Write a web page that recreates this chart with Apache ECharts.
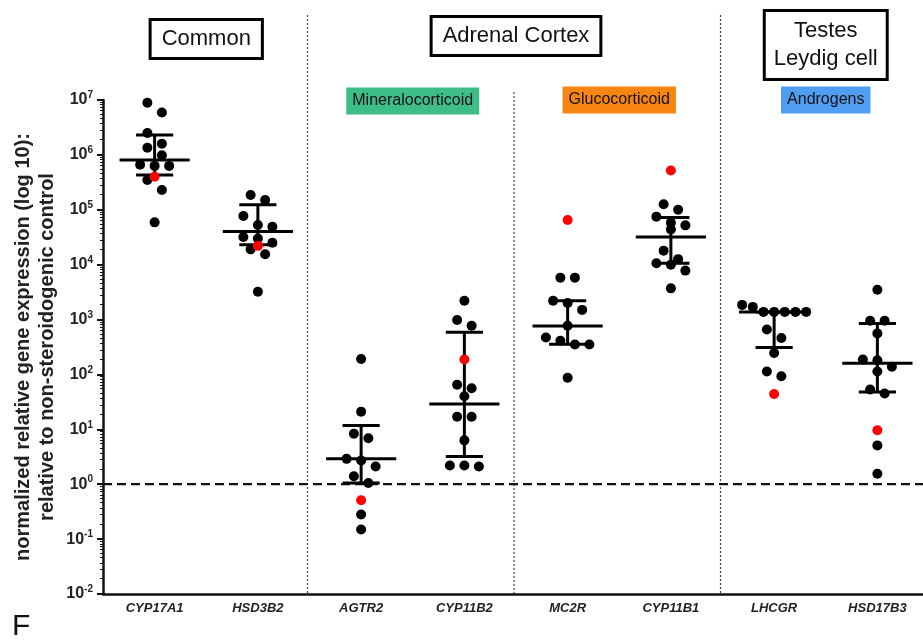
<!DOCTYPE html>
<html><head><meta charset="utf-8">
<script src="https://cdn.jsdelivr.net/npm/echarts@6/dist/echarts.min.js"></script>
<style>html,body{margin:0;padding:0;background:#fff}#c{width:923px;height:640px}</style>
</head><body><div id="c"></div>
<script>
// ---------- data ----------
const categories = ['CYP17A1','HSD3B2','AGTR2','CYP11B2','MC2R','CYP11B1','LHCGR','HSD17B3'];

const cyp17a1 = [8.9e6, 5.9e6, 2.5e6, 1.6e6, 1.35e6, 9.8e5, 6.6e5, 6.3e5, 6.3e5, 3.5e5, 2.3e5, 5.9e4];
const hsd3b2  = [1.86e5, 1.5e5, 7.7e4, 5.3e4, 4.9e4, 3.2e4, 3.0e4, 2.5e4, 1.9e4, 1.55e4, 3.2e3];
const agtr2   = [191, 21, 8.3, 6.9, 2.9, 2.7, 2.1, 1.4, 1.05, 0.28, 0.15];
const cyp11b2 = [2200, 980, 770, 65, 56, 40, 17, 17, 6.3, 2.2, 2.1, 2.2];
const mc2r    = [5800, 5800, 2200, 2000, 1500, 770, 470, 410, 350, 350, 87];
const cyp11b1 = [1.26e5, 1.0e5, 7.5e4, 5.8e4, 5.2e4, 4.4e4, 1.8e4, 1.26e4, 1.06e4, 1.0e4, 7.8e3, 3.7e3];
const lhcgr   = [1850, 1700, 1380, 1380, 1380, 1380, 1380, 660, 460, 245, 113, 93];
const hsd17b3 = [3500, 950, 950, 560, 187, 182, 138, 113, 53, 45, 5.1, 1.55];

// highlighted (red) sample per gene
const redValues = [4.0e5, 2.2e4, 0.51, 187, 6.5e4, 5.2e5, 44, 9.6];

// median and interquartile range per gene
const medians = [8.1e5, 4.0e4, 2.9, 29, 760, 3.2e4, 1380, 160];
const lowerQ  = [4.3e5, 2.3e4, 1.05, 3.2, 355, 1.06e4, 310, 48];
const upperQ  = [2.3e6, 1.23e5, 11.8, 590, 2200, 7.2e4, 1380, 850];

const baselineValue = 1;
const yMin = 0.01, yMax = 1e7;

const yTitle = 'normalized relative gene expression (log 10):\nrelative to non-steroidogenic control';
const groupTitles = ['Common', 'Adrenal Cortex', 'Testes\nLeydig cell'];
const subTitles = ['Mineralocorticoid', 'Glucocorticoid', 'Androgens'];

// ---------- build ----------
const geneValues = [cyp17a1, hsd3b2, agtr2, cyp11b2, mc2r, cyp11b1, lhcgr, hsd17b3];
const allPoints = [];
geneValues.forEach((arr, c) => arr.forEach(v => allPoints.push({cat: c, v: v, red: false})));
redValues.forEach((v, c) => allPoints.push({cat: c, v: v, red: true}));
const blackData = [], redData = [];
allPoints.forEach((p, i) => (p.red ? redData : blackData).push([p.cat, p.v, i]));
const barData = categories.map((_, i) => [i, medians[i], lowerQ[i], upperQ[i]]);

const FONT = 'Liberation Sans';
const DOT_R = 5;
let layoutKey = null, layoutCache = null;
// simple deterministic beeswarm: group near-equal values into rows, spread each row symmetrically
function getOffsets(api) {
  const key = api.coord([0, yMax]).join() + '|' + api.coord([1, yMin]).join();
  if (key === layoutKey) return layoutCache;
  const offs = new Array(allPoints.length).fill(0);
  for (let c = 0; c < categories.length; c++) {
    const idxs = [];
    allPoints.forEach((p, i) => { if (p.cat === c && !p.red) idxs.push(i); });
    idxs.sort((a, b) => allPoints[b].v - allPoints[a].v);
    const rows = []; let cur = null;
    idxs.forEach(i => {
      const y = api.coord([c, allPoints[i].v])[1];
      if (cur && y - cur.y0 < 11) cur.items.push(i);
      else { cur = {y0: y, items: [i]}; rows.push(cur); }
    });
    rows.forEach(r => {
      const n = r.items.length;
      const slot = n > 1 ? Math.min(14.5, 64 / (n - 1)) : 0;
      r.items.forEach((i, j) => { offs[i] = (j - (n - 1) / 2) * slot; });
    });
  }
  layoutKey = key; layoutCache = offs;
  return offs;
}
function dotRender(color) {
  return function (params, api) {
    const offs = getOffsets(api);
    const p = api.coord([api.value(0), api.value(1)]);
    return {type: 'circle', shape: {cx: p[0] + offs[api.value(2)], cy: p[1], r: DOT_R}, style: {fill: color}};
  };
}

const chart = echarts.init(document.getElementById('c'), null, {renderer: 'canvas'});
const option = {
  animation: false,
  backgroundColor: '#fff',
  grid: {left: 103, top: 100, width: 826, bottom: 46, containLabel: false, outerBoundsMode: 'none'},
  xAxis: {
    type: 'category', data: categories,
    axisLine: {lineStyle: {color: '#111', width: 2.5}},
    axisTick: {alignWithLabel: true, length: 6, lineStyle: {color: '#111', width: 2}},
    axisLabel: {fontFamily: FONT, fontStyle: 'italic', fontWeight: 'bold', fontSize: 13, color: '#222', margin: 8},
    splitLine: {show: false}
  },
  yAxis: {
    type: 'log', logBase: 10, min: yMin, max: yMax, splitNumber: 9,
    name: yTitle, nameLocation: 'middle', nameGap: 44, nameRotate: 90, nameMoveOverlap: false,
    nameTextStyle: {fontFamily: FONT, fontWeight: 'bold', fontSize: 20, lineHeight: 24, color: '#222'},
    axisLine: {show: true, lineStyle: {color: '#111', width: 2.5}},
    axisTick: {show: true, length: 6, lineStyle: {color: '#111', width: 2}},
    minorTick: {show: true, splitNumber: 10, length: 3, lineStyle: {color: '#111', width: 1}},
    splitLine: {show: false},
    axisLabel: {
      margin: 10, color: '#222',
      formatter: v => '{b|10}{s|' + Math.round(Math.log10(v)) + '}',
      rich: {
        b: {fontFamily: FONT, fontWeight: 'bold', fontSize: 16, color: '#222'},
        s: {fontFamily: FONT, fontWeight: 'bold', fontSize: 10, color: '#222', padding: [0, 0, 9, 0]}
      }
    }
  },
  series: [
    {
      type: 'custom', name: 'baseline', z: 1, data: [[0, baselineValue]],
      renderItem: (params, api) => {
        const cs = params.coordSys;
        const y = api.coord([0, api.value(1)])[1];
        return {type: 'line', shape: {x1: cs.x, y1: y, x2: cs.x + cs.width, y2: y},
          style: {stroke: '#111', lineWidth: 2.2, lineDash: [9, 5]}};
      }
    },
    {type: 'custom', name: 'samples', z: 2, data: blackData, renderItem: dotRender('#000')},
    {
      type: 'custom', name: 'median', z: 3, data: barData,
      renderItem: (params, api) => {
        const c = api.value(0);
        const pm = api.coord([c, api.value(1)]);
        const pl = api.coord([c, api.value(2)]);
        const pu = api.coord([c, api.value(3)]);
        const bw = api.coord([1, 1])[0] - api.coord([0, 1])[0];
        const mw = bw * 0.34, cw = bw * 0.18;
        const st = {stroke: '#000', lineWidth: 3};
        return {type: 'group', children: [
          {type: 'line', shape: {x1: pm[0], y1: pu[1], x2: pm[0], y2: pl[1]}, style: st},
          {type: 'line', shape: {x1: pm[0] - mw, y1: pm[1], x2: pm[0] + mw, y2: pm[1]}, style: st},
          {type: 'line', shape: {x1: pm[0] - cw, y1: pu[1], x2: pm[0] + cw, y2: pu[1]}, style: st},
          {type: 'line', shape: {x1: pm[0] - cw, y1: pl[1], x2: pm[0] + cw, y2: pl[1]}, style: st}
        ]};
      }
    },
    {type: 'custom', name: 'highlighted', z: 4, data: redData, renderItem: dotRender('#ff0000')}
  ]
};
chart.setOption(option);

// ---------- annotations placed from the category axis ----------
const cx = i => chart.convertToPixel({xAxisIndex: 0}, categories[i]);
const mid = (a, b) => (cx(a) + cx(b)) / 2;
const yBottom = chart.convertToPixel({yAxisIndex: 0}, yMin);
function box(text, x, y, lh, pad) {
  return {type: 'text', x: x, y: y, z: 10, style: {
    text: text, font: '22px "' + FONT + '"', fill: '#111', align: 'center', verticalAlign: 'middle',
    lineHeight: lh, borderColor: '#000', borderWidth: 3, backgroundColor: '#fff', padding: pad}};
}
function tag(text, x, y, bg) {
  return {type: 'text', x: x, y: y, z: 10, style: {
    text: text, font: '16px "' + FONT + '"', fill: '#111', align: 'center', verticalAlign: 'middle',
    backgroundColor: bg, padding: [6, 6, 5, 6]}};
}
function divider(x, top) {
  return {type: 'line', z: 0, shape: {x1: x - 2, y1: top, x2: x - 2, y2: yBottom},
    style: {stroke: '#444', lineWidth: 1.2, lineDash: [2, 2]}};
}
chart.setOption({graphic: [
  divider(mid(1, 2), 15), divider(mid(3, 4), 92), divider(mid(5, 6), 15),
  box(groupTitles[0], mid(0, 1), 39, 26, [5, 10, 5, 10]),
  box(groupTitles[1], mid(2, 5), 36, 26, [5, 10, 5, 10]),
  box(groupTitles[2], mid(6, 7), 45, 28, [5, 8, 5, 8]),
  tag(subTitles[0], mid(2, 3), 101, '#3ebd89'),
  tag(subTitles[1], mid(4, 5), 100, '#f7850f'),
  tag(subTitles[2], mid(6, 7), 100, '#4f9ef4'),
  {type: 'text', x: 12, y: 627, style: {text: 'F', font: '30px "' + FONT + '"', fill: '#111', verticalAlign: 'middle'}}
]});
</script></body></html>
